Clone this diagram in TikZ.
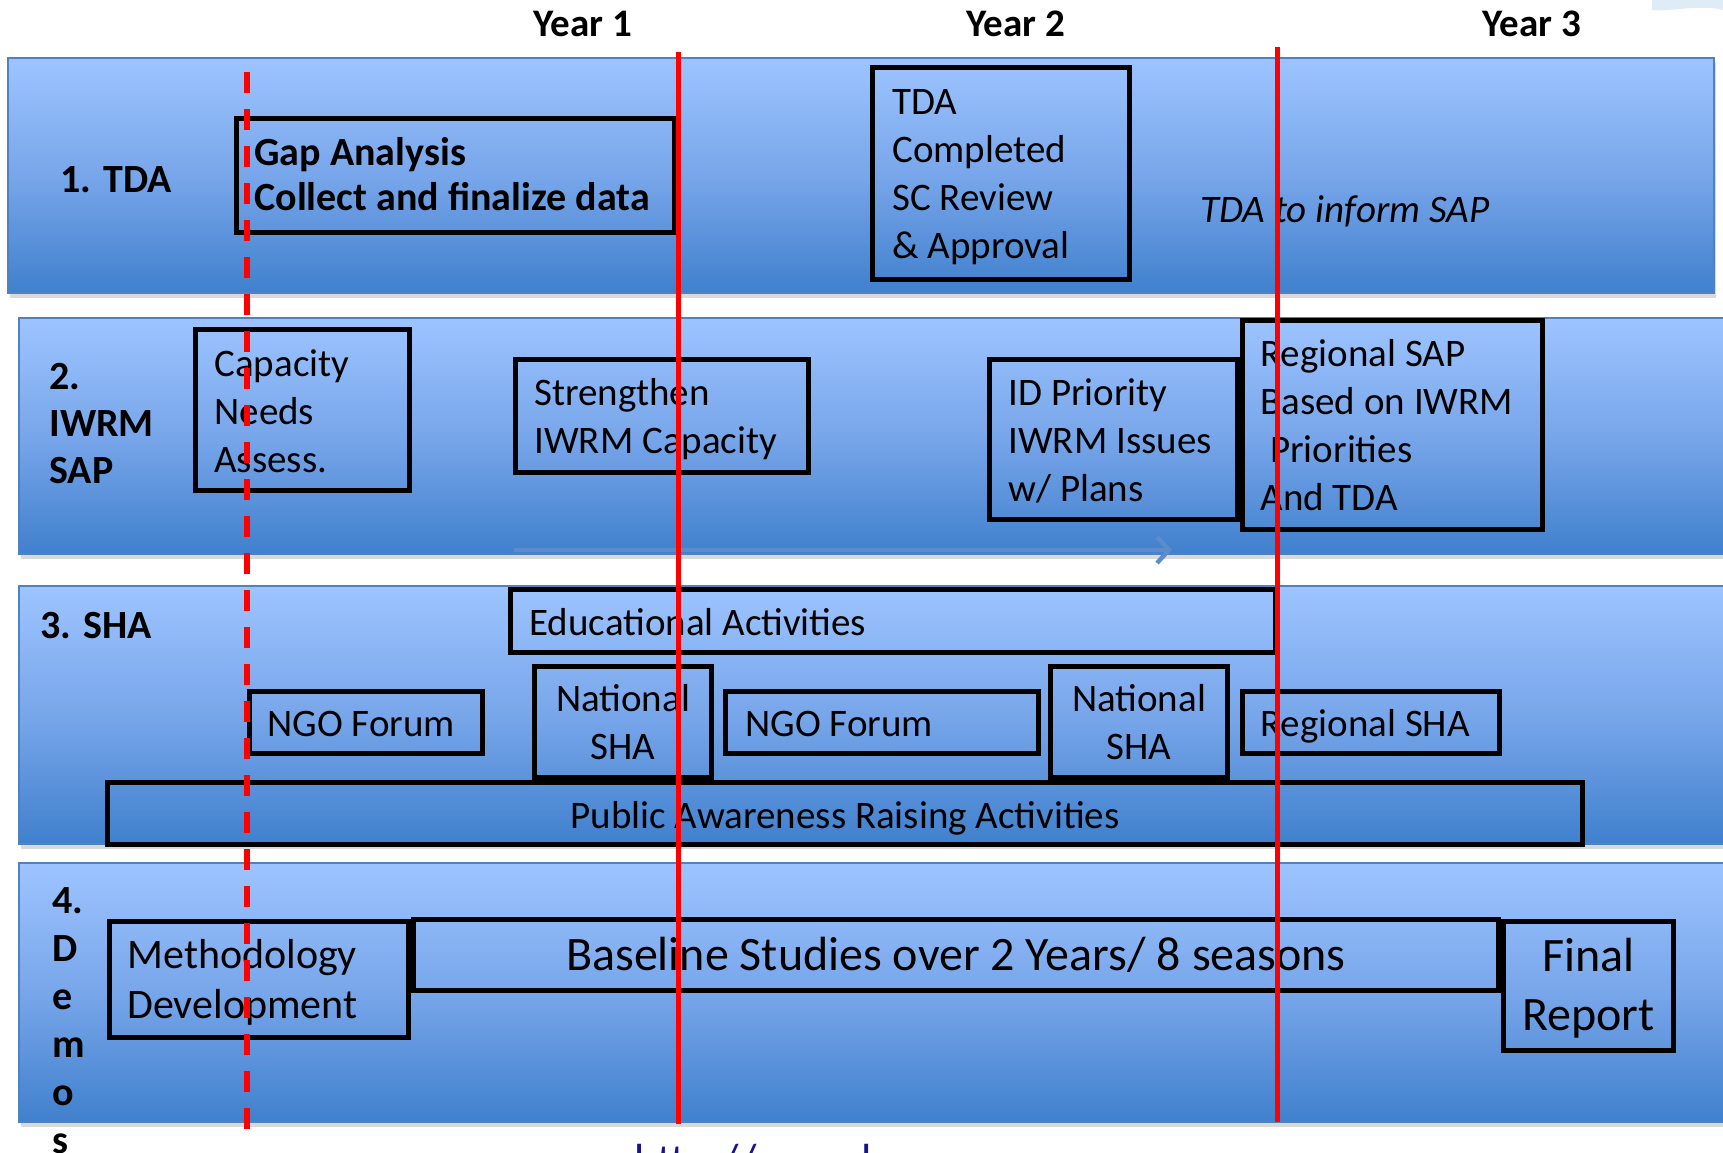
\documentclass[tikz,border=0pt]{standalone}
\usepackage{fontspec}
\setmainfont{Carlito}
\usetikzlibrary{shadows,arrows.meta}
\definecolor{bandtop}{RGB}{157,196,255}
\definecolor{bandmid}{RGB}{120,166,234}
\definecolor{bandbot}{RGB}{64,128,205}
\definecolor{bandedge}{RGB}{80,130,195}
\definecolor{arrowblue}{RGB}{92,140,204}
\definecolor{urlblue}{RGB}{20,20,140}
\definecolor{swooshc}{RGB}{222,236,246}
\newcommand\sr{\strut}
\begin{document}
\begin{tikzpicture}[x=0.5pt,y=-0.5pt,
  band/.style={draw=bandedge, line width=0.75pt, top color=bandtop, bottom color=bandbot, middle color=bandmid,
    drop shadow={shadow xshift=1pt, shadow yshift=-2.5pt, opacity=0.3}},
  box/.style 2 args={draw=black, line width=2.5pt, minimum width=#1*0.5pt, minimum height=#2*0.5pt,
    inner sep=0pt, align=center, font=\fontsize{19.5}{24}\selectfont},
  txt/.style={inner sep=0pt, anchor=west, align=left, font=\fontsize{19.5}{24}\selectfont},
  ctxt/.style={inner sep=0pt, anchor=center, align=center, font=\fontsize{19.5}{24}\selectfont},
  lab/.style={inner sep=0pt, anchor=west, align=left, font=\bfseries\fontsize{20}{23.5}\selectfont},
  yr/.style={inner sep=0pt, font=\bfseries\fontsize{19.5}{24}\selectfont},
  redline/.style={draw=red, line width=2.5pt},
  reddash/.style={draw=red, line width=3pt, dash pattern=on 10.5pt off 8pt},
  arr/.style={draw=arrowblue, line width=2.2pt, -{Straight Barb[length=6pt,width=13pt,line width=2.2pt]},
    drop shadow={shadow xshift=0.5pt, shadow yshift=-1.5pt, opacity=0.25}}
]
\useasboundingbox (0,0) rectangle (1723,1152);
\fill[swooshc] (1652,0) -- (1723,0) -- (1723,10) .. controls (1700,4) and (1670,12) .. (1652,10) -- cycle;

% bands
\path[band] (8,58) rectangle (1714,293);
\path[band] (19,318) rectangle (1730,554);
\path[band] (19,586) rectangle (1730,844);
\path[band] (19,863) rectangle (1730,1122);

% year labels
\node[yr] (yr1) at (583,24) {Year 1};
\node[yr] (yr2) at (1016,24) {Year 2};
\node[yr] (yr3) at (1532,24) {Year 3};

% row labels
\node[lab] (lab1) at (60,180) {1. TDA};
\node[lab] (lab2) at (49,427) {\sr 2.\\IWRM\\\sr SAP};
\node[lab] (lab3) at (40,626) {3. SHA};
\node[lab, font=\bfseries\fontsize{20}{24}\selectfont] (lab4) at (52,1024) {\sr 4.\\D\\e\\m\\o\\\sr s};

% row 1
\node[box={438}{114}] (gap) at (455.5,175.5) {};
\node[txt, font=\bfseries\fontsize{20}{22.5}\selectfont] (gapt) at (254,179) {\sr Gap Analysis\\\sr Collect and finalize data};
\node[box={257}{212}] (tdac) at (1001,173.5) {};
\node[txt] (tdact) at (892,177) {\sr TDA\\Completed\\SC Review\\\sr \& Approval};
\node[txt, font=\itshape\fontsize{19.5}{24}\selectfont] (inform) at (1200,213) {\sr TDA to inform SAP};

% row 2
\node[box={214}{161}] (cap) at (302.5,410) {};
\node[txt] (capt) at (214,415) {\sr Capacity\\Needs\\\sr Assess.};
\node[box={293}{113}] (str) at (662,416) {};
\node[txt] (strt) at (534,420) {\sr Strengthen\\\sr IWRM Capacity};
\node[box={248}{160}] (idp) at (1113,439.5) {};
\node[txt] (idpt) at (1008,444) {\sr ID Priority\\IWRM Issues\\\sr w/ Plans};
\node[box={300}{209}] (rsap) at (1392.5,425) {};
\node[txt] (rsapt) at (1260,429) {\sr Regional SAP\\Based on IWRM\\\hspace*{0.25em}Priorities\\\sr And TDA};
\coordinate (arrS) at (514,550);
\coordinate (arrE) at (1172,550);
\draw[arr] (arrS) -- (arrE);

% row 3
\node[box={765}{63}] (edu) at (893,621) {};
\node[txt] (edut) at (529,626) {\sr Educational Activities};
\node[box={233}{62}] (ngo1) at (366,722.5) {};
\node[txt] (ngo1t) at (267,727) {\sr NGO Forum};
\node[box={177}{111}] (nsha1) at (623,722) {National\\SHA};
\node[box={313}{62}] (ngo2) at (882,722.5) {};
\node[txt] (ngo2t) at (745,727) {\sr NGO Forum};
\node[box={177}{111}] (nsha2) at (1139,722) {National\\SHA};
\node[box={257}{62}] (rsha) at (1371,722.5) {};
\node[txt] (rshat) at (1260,727) {\sr Regional SHA};
\node[box={1475}{62}] (pub) at (844.5,813.5) {};
\node[ctxt] (pubt) at (845,819) {\sr Public Awareness Raising Activities};

% row 4
\node[box={299}{116}] (meth) at (259,979) {};
\node[txt, font=\fontsize{21}{25}\selectfont] (metht) at (127,983) {\sr Methodology\\\sr Development};
\node[box={1085}{71}, font=\fontsize{24}{29.5}\selectfont] (base) at (956,955) {Baseline Studies over 2 Years/ 8 seasons};
\node[box={170}{129}, font=\fontsize{24}{29.5}\selectfont] (fin) at (1588.5,986) {};
\node[ctxt, font=\fontsize{24}{29.5}\selectfont] (fint) at (1588.5,989) {\sr Final\\\sr Report};

% url (cut off)
\node[inner sep=0pt, anchor=base west, text=urlblue, font=\fontsize{22.5}{27}\selectfont] (url) at (634,1175) {http://www.l};

% red year lines
\coordinate (d0t) at (247,72);
\coordinate (d0b) at (247,1138);
\coordinate (r1t) at (678,52);
\coordinate (r1b) at (678,1124);
\coordinate (r2t) at (1277,47);
\coordinate (r2b) at (1277,1122);
\draw[reddash] (d0t) -- (d0b);
\draw[redline] (r1t) -- (r1b);
\draw[redline] (r2t) -- (r2b);
\end{tikzpicture}
\end{document}
